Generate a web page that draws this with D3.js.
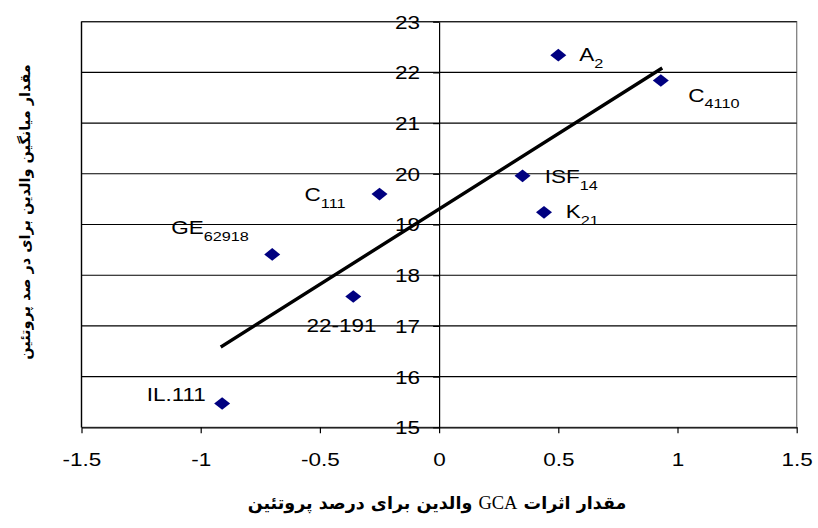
<!DOCTYPE html>
<html>
<head>
<meta charset="utf-8">
<script src="https://cdn.jsdelivr.net/npm/d3@7"></script>
<style>
  html, body { margin: 0; padding: 0; background: #fff; }
  svg { display: block; }
  .lbl { font-family: "Liberation Sans", Arial, sans-serif; fill: #000; }
  .title { font-family: "DejaVu Sans", "Noto Sans", sans-serif; font-weight: bold; fill: #000; }
</style>
</head>
<body>
<svg id="chart" width="818" height="528"></svg>
<script>
// Parent names, their subscripts, GCA effects (x) and parent means (y)
const parentNames = ["A", "C", "C", "GE", "22-191", "IL.111", "ISF", "K"];
const parentSubs  = ["2", "4110", "111", "62918", "", "", "14", "21"];
const gcaEffects  = [0.50, 0.93, -0.25, -0.70, -0.36, -0.91, 0.35, 0.44];
const parentMeans = [22.34, 21.84, 19.60, 18.41, 17.58, 15.47, 19.96, 19.24];

const xTicks = [-1.5, -1, -0.5, 0, 0.5, 1, 1.5];
const yTicks = [15, 16, 17, 18, 19, 20, 21, 22, 23];

// Label placement around each marker: [dx, dy, anchor]
const labelPlacement = [
  [21, 6, "start"], [27.5, 21, "start"], [-34, 7.4, "end"], [-23.4, -20.3, "end"],
  [-46.7, 35.6, "start"], [-16.3, -2, "end"], [22.3, 7.3, "start"], [21.7, 6, "start"]
];

const svg = d3.select("#chart");
const plotL = 81.5, plotR = 796.7, plotT = 21.7, plotB = 427.3;
const sx = 1.25; // horizontal stretch of the Arial text

const x = d3.scaleLinear().domain([-1.5, 1.5]).range([plotL, plotR]);
const y = d3.scaleLinear().domain([15, 23]).range([plotB, plotT]);

// Plot-area border
svg.append("rect")
  .attr("x", plotL).attr("y", plotT)
  .attr("width", plotR - plotL).attr("height", plotB - plotT)
  .attr("fill", "none").attr("stroke", "#808080").attr("stroke-width", 1.3);
svg.append("line")
  .attr("x1", plotL).attr("x2", plotL).attr("y1", plotT).attr("y2", plotB)
  .attr("stroke", "#000").attr("stroke-width", 1.3);

// Horizontal gridlines
svg.append("g").selectAll("line").data(yTicks.slice(1)).join("line")
  .attr("x1", plotL).attr("x2", plotR)
  .attr("y1", d => y(d)).attr("y2", d => y(d))
  .attr("stroke", "#000").attr("stroke-width", 1.1);

// X axis along the bottom
const gx = svg.append("g").attr("transform", `translate(0,${plotB})`)
  .call(d3.axisBottom(x).tickValues(xTicks).tickSize(6).tickSizeOuter(0).tickFormat(d => String(d)));
gx.select(".domain").attr("stroke", "#000").attr("stroke-width", 1.3);
gx.selectAll(".tick line").attr("stroke", "#000").attr("stroke-width", 1.2);
gx.selectAll(".tick text")
  .attr("class", "lbl").attr("y", 0).attr("dy", 0)
  .attr("transform", `translate(0,38.4) scale(${sx},1)`)
  .attr("font-size", 18).attr("text-anchor", "middle");

// Y axis through x = 0
const gy = svg.append("g").attr("transform", `translate(${x(0)},0)`)
  .call(d3.axisLeft(y).tickValues(yTicks).tickSize(6).tickSizeOuter(0).tickFormat(d => String(d)));
gy.select(".domain").attr("stroke", "#000").attr("stroke-width", 1.2);
gy.selectAll(".tick line").attr("stroke", "#000").attr("stroke-width", 1.2);
gy.selectAll(".tick text")
  .attr("class", "lbl").attr("x", 0).attr("dy", "0.36em")
  .attr("transform", `translate(-19,0) scale(${sx},1)`)
  .attr("font-size", 18).attr("text-anchor", "end");
svg.selectAll(".tick text").style("font-family", "'Liberation Sans', Arial, sans-serif");

// Least-squares trend line over the range of the GCA effects
const n = gcaEffects.length;
const mx = d3.mean(gcaEffects), my = d3.mean(parentMeans);
let sxy = 0, sxx = 0;
for (let i = 0; i < n; i++) {
  sxy += (gcaEffects[i] - mx) * (parentMeans[i] - my);
  sxx += (gcaEffects[i] - mx) ** 2;
}
const slope = sxy / sxx, intercept = my - slope * mx;
const [xmin, xmax] = d3.extent(gcaEffects);
svg.append("line")
  .attr("x1", x(xmin)).attr("y1", y(intercept + slope * xmin))
  .attr("x2", x(xmax)).attr("y2", y(intercept + slope * xmax))
  .attr("stroke", "#000").attr("stroke-width", 3.4).attr("stroke-linecap", "square");

// Diamond markers
const hw = 8, hh = 6.3;
const diamond = `M0,${-hh}L${hw},0L0,${hh}L${-hw},0Z`;
svg.append("g").selectAll("path").data(gcaEffects).join("path")
  .attr("d", diamond)
  .attr("transform", (d, i) => `translate(${x(d)},${y(parentMeans[i])})`)
  .attr("fill", "#000080");

// Point labels with subscripts
parentNames.forEach((name, i) => {
  const [dx, dy, anchor] = labelPlacement[i];
  const g = svg.append("g")
    .attr("transform", `translate(${x(gcaEffects[i]) + dx},${y(parentMeans[i]) + dy}) scale(${sx},1)`);
  const t = g.append("text").attr("class", "lbl").attr("font-size", 18).attr("text-anchor", anchor);
  t.append("tspan").text(name);
  if (parentSubs[i]) t.append("tspan").attr("font-size", 13).attr("dy", 6.5).text(parentSubs[i]);
});

// Axis titles
svg.append("text").attr("class", "title")
  .attr("x", 437).attr("y", 509).attr("font-size", 17.5)
  .attr("text-anchor", "middle").attr("direction", "rtl")
  .html('مقدار اثرات <tspan font-family="Liberation Serif, Times New Roman, serif" font-weight="normal" font-size="18.5">GCA</tspan> والدین برای درصد پروتئین');

svg.append("text").attr("class", "title")
  .attr("transform", "translate(30,212) rotate(-90)")
  .attr("font-size", 14.5).attr("text-anchor", "middle").attr("direction", "rtl")
  .text("مقدار میانگین والدین برای در صد پروتئین");
</script>
</body>
</html>
